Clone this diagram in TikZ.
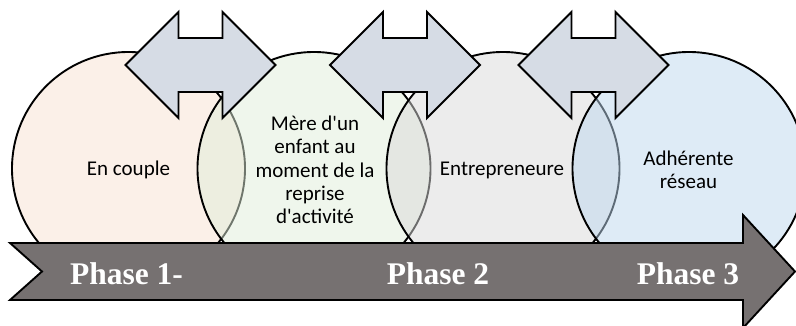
\documentclass[tikz,border=0pt]{standalone}
\usepackage{fontspec}
\setmainfont{Liberation Serif}
\newfontfamily\calfont{Carlito}[Ligatures=TeXOff]
\definecolor{cpeach}{HTML}{F7E1D1}
\definecolor{cgreen}{HTML}{DFEDD9}
\definecolor{cgrey}{HTML}{D9D9D9}
\definecolor{cblue}{HTML}{BDD7EE}
\definecolor{darrfill}{HTML}{D6DCE5}
\definecolor{bigfill}{HTML}{767171}
\begin{document}
\begin{tikzpicture}[x=1pt,y=-1pt,
  venn/.style={circle, draw=black, line width=1.9pt, minimum size=233pt, inner sep=0pt, fill opacity=0.5, draw opacity=1},
  lbl/.style={font=\calfont\fontsize{21}{23.3}\selectfont, align=center, text=black, inner sep=0pt},
  phase/.style={font=\bfseries\fontsize{31.5}{36}\selectfont, text=white, inner sep=0pt},
  bigarrow/.style={draw=black, line width=1.9pt, fill=bigfill, line join=miter},
  darrstyle/.style={draw=black, line width=1.9pt, fill=darrfill, line join=miter},
  dblarrow/.pic={\draw[darrstyle] (-75,0) -- (-22,-53) -- (-22,-27) -- (22,-27) -- (22,-53) -- (75,0) -- (22,53) -- (22,27) -- (-22,27) -- (-22,53) -- cycle;}
]
\useasboundingbox (0,0) rectangle (796,326);
\clip (0,0) rectangle (796,326);
% circles
\node[venn, fill=cpeach] (c1) at (128.5,168.5) {};
\node[venn, fill=cgreen] (c2) at (314,168.5) {};
\node[venn, fill=cgrey] (c3) at (503,168.5) {};
\node[venn, fill=cblue] (c4) at (689,168.5) {};
% circle labels
\node[lbl] (t1) at (128.5,170) {En couple};
\node[lbl] (t2) at (315,170) {Mère d'un\\enfant au\\moment de la\\reprise\\d'activité};
\node[lbl] (t3) at (502,170) {Entrepreneure};
\node[lbl] (t4) at (688.5,170) {Adhérente\\réseau};
% big arrow
\draw[bigarrow] (10,243) -- (743,243) -- (743,215) -- (795,271.5) -- (743,328) -- (743,300) -- (10,300) -- (42,271.5) -- cycle;
\node[phase] (p1) at (126.5,274) {Phase 1-};
\node[phase] (p2) at (438,274) {Phase 2};
\node[phase] (p3) at (688,274) {Phase 3};
% double arrows
\pic (a1) at (200.5,65) {dblarrow};
\pic (a2) at (405,65) {dblarrow};
\pic (a3) at (593.5,65) {dblarrow};
\end{tikzpicture}
\end{document}
